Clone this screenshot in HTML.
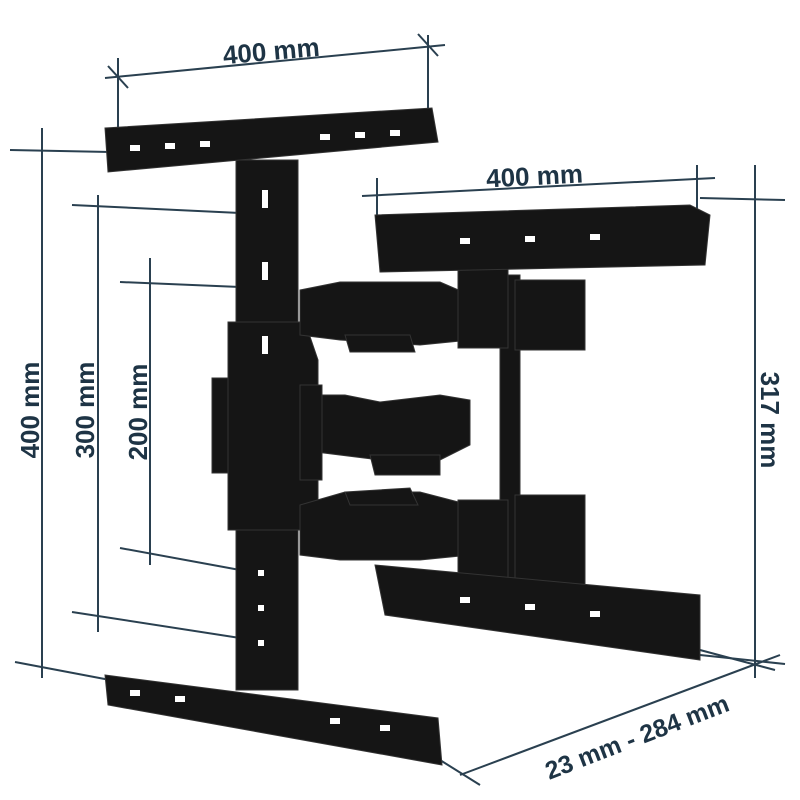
<!DOCTYPE html>
<html><head><meta charset="utf-8"><style>
html,body{margin:0;padding:0;background:#fff;width:800px;height:800px;overflow:hidden}
svg{display:block}
text{font-family:"Liberation Sans",sans-serif;font-weight:bold;fill:#1e3445}
</style></head><body>
<svg width="800" height="800" viewBox="0 0 800 800" xmlns="http://www.w3.org/2000/svg">
<g stroke="#2a4050" stroke-width="2" fill="none">
 <line x1="105" y1="78" x2="445" y2="45"/>
 <line x1="118" y1="58" x2="118" y2="140"/><line x1="428" y1="35" x2="428" y2="130"/>
 <line x1="108" y1="66" x2="128" y2="88"/><line x1="418" y1="34" x2="438" y2="56"/>
 <line x1="362" y1="196" x2="715" y2="178"/>
 <line x1="377" y1="178" x2="377" y2="230"/><line x1="697" y1="165" x2="697" y2="215"/>
 <line x1="42" y1="128" x2="42" y2="678"/>
 <line x1="10" y1="150" x2="110" y2="152"/><line x1="15" y1="662" x2="110" y2="680"/>
 <line x1="98" y1="195" x2="98" y2="632"/>
 <line x1="72" y1="205" x2="240" y2="213"/><line x1="72" y1="612" x2="240" y2="638"/>
 <line x1="150" y1="258" x2="150" y2="565"/>
 <line x1="120" y1="282" x2="240" y2="287"/><line x1="120" y1="548" x2="240" y2="570"/>
 <line x1="755" y1="165" x2="755" y2="678"/>
 <line x1="700" y1="198" x2="785" y2="200"/><line x1="700" y1="655" x2="785" y2="664"/>
 <line x1="440" y1="760" x2="480" y2="785"/>
 <line x1="460" y1="775" x2="780" y2="655"/>
 <line x1="700" y1="650" x2="775" y2="670"/>
</g>
<text x="0" y="0" font-size="26" transform="translate(272,60) rotate(-5)" text-anchor="middle">400 mm</text>
<text x="0" y="0" font-size="26" transform="translate(535,185) rotate(-3)" text-anchor="middle">400 mm</text>
<text x="0" y="0" font-size="26" transform="translate(39,410) rotate(-90)" text-anchor="middle">400 mm</text>
<text x="0" y="0" font-size="26" transform="translate(94,410) rotate(-90)" text-anchor="middle">300 mm</text>
<text x="0" y="0" font-size="26" transform="translate(147,412) rotate(-90)" text-anchor="middle">200 mm</text>
<text x="0" y="0" font-size="26" transform="translate(761,420) rotate(90)" text-anchor="middle">317 mm</text>
<text x="0" y="0" font-size="25" transform="translate(640,745) rotate(-21)" text-anchor="middle">23 mm - 284 mm</text>

<g fill="#151515" stroke="#333" stroke-width="1">
 <rect x="236" y="160" width="62" height="530"/>
 <path d="M228 322 L305 322 L318 360 L318 500 L305 530 L228 530 Z"/>
 <rect x="212" y="378" width="16" height="95"/>
 <polygon points="105,128 432,108 438,142 108,172"/>
 <polygon points="105,675 438,718 442,765 108,705"/>
 <polygon points="300,290 340,282 440,282 470,295 470,340 420,345 340,340 300,335"/>
 <polygon points="300,395 345,395 380,402 440,395 470,400 470,445 440,460 380,460 300,450"/>
 <polygon points="300,505 345,492 420,492 470,505 470,555 420,560 340,560 300,555"/>
 <polygon points="345,335 410,335 415,352 350,352"/>
 <polygon points="370,455 440,455 440,475 375,475"/>
 <polygon points="345,492 410,488 418,505 350,505"/>
 <rect x="500" y="275" width="20" height="305"/>
 <rect x="458" y="268" width="50" height="80"/>
 <rect x="515" y="280" width="70" height="70"/>
 <rect x="458" y="500" width="50" height="80"/>
 <rect x="515" y="495" width="70" height="90"/>
 <rect x="300" y="385" width="22" height="95"/>
 <polygon points="375,215 690,205 710,215 705,265 380,272"/>
 <polygon points="375,565 700,595 700,660 385,615"/>
</g>
<g fill="#fff">
 <rect x="130" y="145" width="10" height="6"/><rect x="165" y="143" width="10" height="6"/><rect x="200" y="141" width="10" height="6"/>
 <rect x="320" y="134" width="10" height="6"/><rect x="355" y="132" width="10" height="6"/><rect x="390" y="130" width="10" height="6"/>
 <rect x="130" y="690" width="10" height="6"/><rect x="175" y="696" width="10" height="6"/><rect x="330" y="718" width="10" height="6"/><rect x="380" y="725" width="10" height="6"/>
 <rect x="460" y="238" width="10" height="6"/><rect x="525" y="236" width="10" height="6"/><rect x="590" y="234" width="10" height="6"/>
 <rect x="460" y="597" width="10" height="6"/><rect x="525" y="604" width="10" height="6"/><rect x="590" y="611" width="10" height="6"/>
 <rect x="262" y="190" width="6" height="18"/><rect x="262" y="262" width="6" height="18"/><rect x="262" y="336" width="6" height="18"/>
 <rect x="258" y="570" width="6" height="6"/><rect x="258" y="605" width="6" height="6"/><rect x="258" y="640" width="6" height="6"/>
</g>
</svg>
</body></html>
